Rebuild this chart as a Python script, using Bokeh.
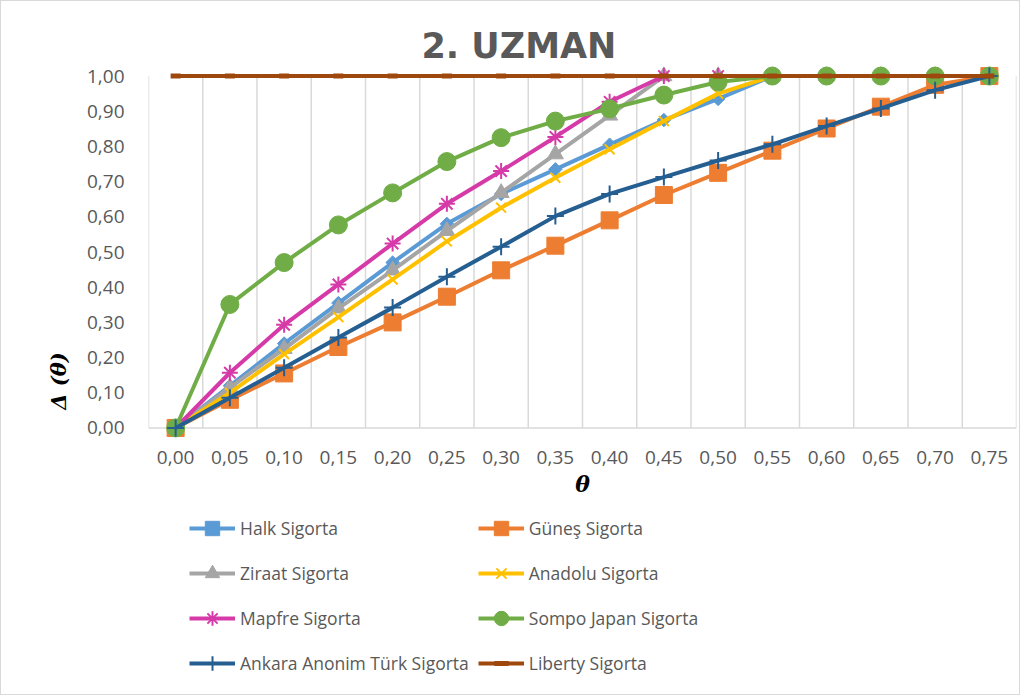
from bokeh.plotting import figure
from bokeh.models import (FixedTicker, CustomJSTickFormatter, Span, Legend, LegendItem, Range1d)
from bokeh.core.properties import value
from bokeh.embed import file_html
from bokeh.resources import INLINE

categories = ["0,00", "0,05", "0,10", "0,15", "0,20", "0,25", "0,30", "0,35",
              "0,40", "0,45", "0,50", "0,55", "0,60", "0,65", "0,70", "0,75"]

halk = [0.00, 0.12, 0.24, 0.355, 0.47, 0.58, 0.665, 0.735, 0.805, 0.875, 0.935, 1.00, 1.00, 1.00, 1.00, 1.00]
gunes = [0.00, 0.08, 0.155, 0.23, 0.30, 0.373, 0.448, 0.518, 0.59, 0.662, 0.725, 0.788, 0.851, 0.913, 0.975, 1.00]
ziraat = [0.00, 0.115, 0.225, 0.34, 0.448, 0.56, 0.668, 0.778, 0.888, 1.00, 1.00, 1.00, 1.00, 1.00, 1.00, 1.00]
anadolu = [0.00, 0.10, 0.21, 0.315, 0.422, 0.53, 0.626, 0.711, 0.792, 0.872, 0.95, 1.00, 1.00, 1.00, 1.00, 1.00]
mapfre = [0.00, 0.157, 0.293, 0.408, 0.524, 0.637, 0.73, 0.827, 0.927, 1.00, 1.00, 1.00, 1.00, 1.00, 1.00, 1.00]
sompo = [0.00, 0.351, 0.47, 0.577, 0.668, 0.757, 0.825, 0.872, 0.907, 0.946, 0.983, 1.00, 1.00, 1.00, 1.00, 1.00]
ankara = [0.00, 0.086, 0.171, 0.257, 0.342, 0.43, 0.515, 0.602, 0.665, 0.713, 0.76, 0.806, 0.858, 0.908, 0.96, 1.00]
liberty = [1.00, 1.00, 1.00, 1.00, 1.00, 1.00, 1.00, 1.00, 1.00, 1.00, 1.00, 1.00, 1.00, 1.00, 1.00, 1.00]

series_names = ["Halk Sigorta", "Güneş Sigorta", "Ziraat Sigorta", "Anadolu Sigorta",
                "Mapfre Sigorta", "Sompo Japan Sigorta", "Ankara Anonim Türk Sigorta", "Liberty Sigorta"]
series_values = [halk, gunes, ziraat, anadolu, mapfre, sompo, ankara, liberty]
series_colors = ["#5B9BD5", "#ED7D31", "#A5A5A5", "#FFC000", "#D63AA8", "#70AD47", "#255E91", "#9E480E"]

y_ticks = [0.0, 0.1, 0.2, 0.3, 0.4, 0.5, 0.6, 0.7, 0.8, 0.9, 1.0]
x_title = "θ"
y_title = "Δ (θ)"
chart_title = "2. UZMAN"

# marker styles: (marker, size, line_width, angle, filled)
marker_styles = [
    ("square", 9.5, 1, 0.785398, True),
    ("square", 17, 1, 0.0, True),
    ("triangle", 16, 1, 0.0, True),
    ("x", 14, 2, 0.0, False),
    ("asterisk", 16, 2, 0.0, False),
    ("circle", 18, 1, 0.0, True),
    ("cross", 17, 2, 0.0, False),
    ("dash", 10, 5, 0.0, False),
]

TEXT = "#595959"
FONT = "Open Sans"

n = len(categories)
xs = list(range(n))

p = figure(width=1020, height=695, output_backend="svg", toolbar_location=None,
           x_range=Range1d(-0.5, n - 0.5), y_range=Range1d(-0.763, 1.03),
           min_border_left=147, min_border_right=5, min_border_top=64, min_border_bottom=0)
p.styles = {"border": "1px solid #D9D9D9"}
p.outline_line_color = None
p.background_fill_color = "white"
p.border_fill_color = "white"
p.xgrid.visible = False
p.ygrid.visible = False
p.xaxis.visible = False

# vertical gridlines at category boundaries
bounds = [i - 0.5 for i in range(n + 1)]
p.segment(x0=bounds, x1=bounds, y0=[y_ticks[0]] * len(bounds), y1=[y_ticks[-1]] * len(bounds),
          line_color="#D9D9D9", line_width=1.5)
p.add_layout(Span(location=y_ticks[0], dimension="width", line_color="#D9D9D9",
                  line_width=1.5, level="underlay"))

items = []
for name, vals, col, (mk, sz, lw, ang, filled) in zip(series_names, series_values, series_colors, marker_styles):
    lr = p.line(xs, vals, line_color=col, line_width=4)
    sr = p.scatter(xs, vals, marker=mk, size=sz, angle=ang,
                   fill_color=col if filled else None, line_color=col, line_width=lw)
    items.append(LegendItem(label=name, renderers=[lr, sr]))

# category (x) labels under the zero line
p.text(x=xs, y=[y_ticks[0]] * n, text=categories, y_offset=30,
       text_align="center", text_baseline="middle",
       text_font=value(FONT), text_font_size=value("19px"), text_color=TEXT)
# x axis title
p.text(x=[(xs[0] + xs[-1]) / 2], y=[y_ticks[0]], text=[x_title], y_offset=56,
       text_align="center", text_baseline="middle",
       text_font=value("DejaVu Serif"), text_font_style="bold italic",
       text_font_size=value("22px"), text_color="#000000")

p.yaxis.ticker = FixedTicker(ticks=y_ticks)
p.yaxis.formatter = CustomJSTickFormatter(code="return tick.toFixed(2).replace('.', ',');")
p.yaxis.axis_line_color = None
p.yaxis.major_tick_line_color = None
p.yaxis.minor_tick_line_color = None
p.yaxis.major_label_standoff = 18
p.yaxis.major_label_text_font = FONT
p.yaxis.major_label_text_font_size = "19px"
p.yaxis.major_label_text_color = TEXT
p.yaxis.axis_label = y_title
p.yaxis.axis_label_text_font = "DejaVu Serif"
p.yaxis.axis_label_text_font_style = "bold italic"
p.yaxis.axis_label_text_font_size = "21px"
p.yaxis.axis_label_text_color = "#000000"
p.yaxis.axis_label_standoff = 13

# title
p.title.text = chart_title
p.title.align = "left"
p.title.offset = 273
p.title.standoff = 0
p.title.text_font = "DejaVu Sans"
p.title.text_font_style = "bold"
p.title.text_font_size = "35px"
p.title.text_color = TEXT

legend = Legend(items=items, orientation="horizontal", ncols=2,
                location=(41, 15), margin=0, padding=10, spacing=9,
                glyph_width=46, glyph_height=36, label_height=36, label_standoff=5,
                label_text_font=FONT, label_text_font_size="17.5px", label_text_color=TEXT,
                border_line_color=None, background_fill_alpha=0)
p.add_layout(legend, "center")

open("out.html", "w").write(file_html(p, INLINE))
